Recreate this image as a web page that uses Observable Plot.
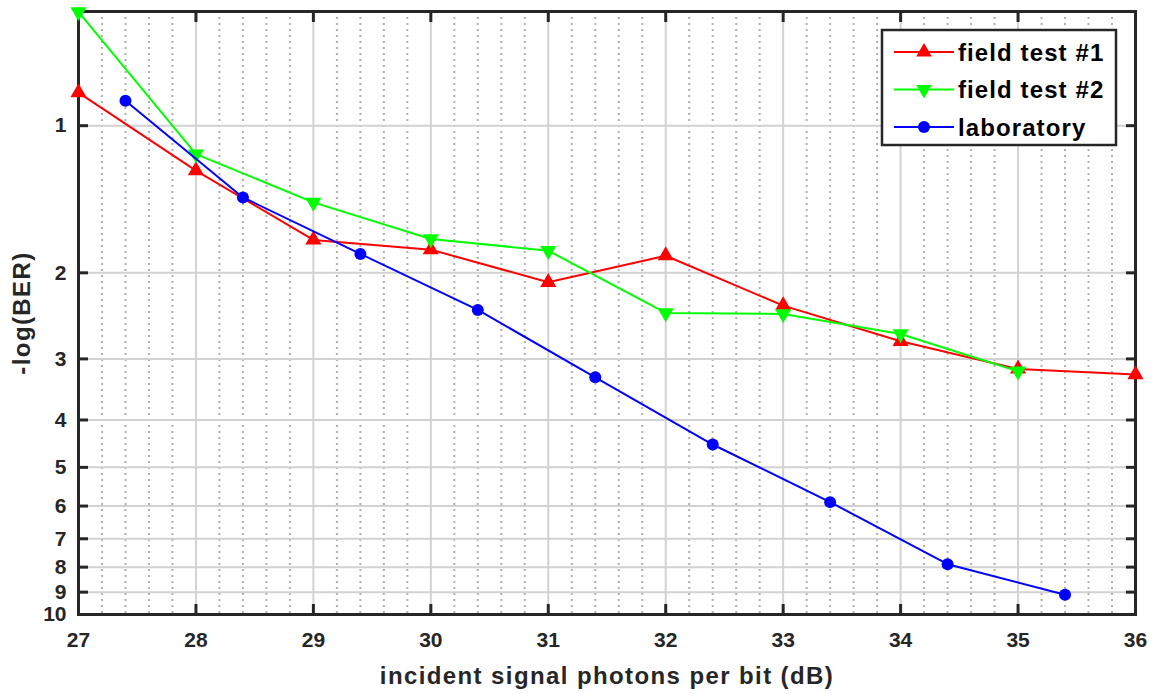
<!DOCTYPE html>
<html>
<head>
<meta charset="utf-8">
<script src="https://cdn.jsdelivr.net/npm/d3@7"></script>
<script src="https://cdn.jsdelivr.net/npm/@observablehq/plot@0.6"></script>
<style>
  html, body { margin: 0; padding: 0; background: #fff; }
  #wrap { position: relative; width: 1157px; height: 694px; }
  #legend { position: absolute; left: 0; top: 0; }
  .axlabel { letter-spacing: 1.4px; }
</style>
</head>
<body>
<div id="wrap"></div>
<script>
// ---- data ----
const seriesNames = ["field test #1", "field test #2", "laboratory"];
const seriesColors = ["#ff0000", "#00ff00", "#0000ff"];
const field1X = [27, 28, 29, 30, 31, 32, 33, 34, 35, 36];
const field1Y = [0.856, 1.236, 1.713, 1.793, 2.091, 1.845, 2.334, 2.761, 3.145, 3.23];
const field2X = [27, 28, 29, 30, 31, 32, 33, 34, 35];
const field2Y = [0.585, 1.143, 1.435, 1.705, 1.802, 2.416, 2.428, 2.667, 3.18];
const labX = [27.4, 28.4, 29.4, 30.4, 31.4, 32.4, 33.4, 34.4, 35.4];
const labY = [0.889, 1.402, 1.830, 2.382, 3.272, 4.49, 5.89, 7.89, 9.11];
const xTicks = [27, 28, 29, 30, 31, 32, 33, 34, 35, 36];
const yTicks = [1, 2, 3, 4, 5, 6, 7, 8, 9, 10];
const xLabel = "incident signal photons per bit (dB)";
const yLabel = "-log(BER)";

const xMinor = d3.range(135, 181).map(i => i / 5).filter(v => !Number.isInteger(v));

const toRows = (xs, ys, name) => xs.map((x, i) => ({x, y: ys[i], name}));
const f1 = toRows(field1X, field1Y, seriesNames[0]);
const f2 = toRows(field2X, field2Y, seriesNames[1]);
const lab = toRows(labX, labY, seriesNames[2]);

const ink = "#262626";
const W = 1157, H = 694;

const chart = Plot.plot({
  width: W,
  height: H,
  marginLeft: 78,
  marginRight: 22,
  marginTop: 11,
  marginBottom: 80,
  style: {fontFamily: "'Liberation Sans', Arial, sans-serif", fontWeight: "bold", fontSize: "21px", color: ink, background: "#fff"},
  x: {domain: [27, 36]},
  y: {type: "log", domain: [0.584, 10], reverse: true},
  marks: [
    Plot.gridX(xMinor, {stroke: "#b0b0b0", strokeOpacity: 1, strokeWidth: 2, strokeDasharray: "2,4"}),
    Plot.gridX(xTicks, {stroke: "#d2d2d2", strokeOpacity: 1, strokeWidth: 2}),
    Plot.gridY(yTicks, {stroke: "#d2d2d2", strokeOpacity: 1, strokeWidth: 2}),
    Plot.axisX(xTicks, {anchor: "bottom", tickSize: -10, tickPadding: 28, strokeWidth: 3, stroke: ink, fill: ink, label: null, tickFormat: d => String(d), fontSize: 21}),
    Plot.axisX(xTicks, {anchor: "top", tickSize: -10, strokeWidth: 3, stroke: ink, label: null, tickFormat: () => ""}),
    Plot.axisY(yTicks, {anchor: "left", tickSize: -10, tickPadding: 22, strokeWidth: 3, stroke: ink, fill: ink, label: null, tickFormat: d => String(d), fontSize: 21}),
    Plot.axisY(yTicks, {anchor: "right", tickSize: -10, strokeWidth: 3, stroke: ink, label: null, tickFormat: () => ""}),
    Plot.frame({stroke: ink, strokeWidth: 3}),
    Plot.text([xLabel], {frameAnchor: "bottom", lineAnchor: "middle", textAnchor: "middle", dy: 62, text: d => d, fill: ink, fontSize: 24, fontWeight: "bold", className: "axlabel"}),
    Plot.text([yLabel], {frameAnchor: "left", lineAnchor: "middle", textAnchor: "middle", dx: -56, rotate: -90, text: d => d, fill: ink, fontSize: 24, fontWeight: "bold", className: "axlabel"}),
    Plot.line(f1, {x: "x", y: "y", stroke: seriesColors[0], strokeWidth: 2}),
    Plot.dot(f1, {x: "x", y: "y", symbol: "triangle", r: 6, fill: seriesColors[0], stroke: "none"}),
    Plot.line(f2, {x: "x", y: "y", stroke: seriesColors[1], strokeWidth: 2}),
    Plot.dot(f2, {x: "x", y: "y", symbol: "triangle", rotate: 180, r: 6, fill: seriesColors[1], stroke: "none"}),
    Plot.line(lab, {x: "x", y: "y", stroke: seriesColors[2], strokeWidth: 2}),
    Plot.dot(lab, {x: "x", y: "y", symbol: "circle", r: 6, fill: seriesColors[2], stroke: "none"})
  ]
});

const wrap = document.getElementById("wrap");
wrap.appendChild(chart);

// ---- legend overlay ----
const symbols = [d3.symbolTriangle, d3.symbolTriangle, d3.symbolCircle];
const rotations = [0, 180, 0];
const sizes = [105, 105, Math.PI * 36];
const leg = d3.select(wrap).append("svg")
  .attr("id", "legend").attr("width", W).attr("height", H)
  .style("font-family", "'Liberation Sans', Arial, sans-serif")
  .style("font-weight", "bold").style("font-size", "24px").style("letter-spacing", "1.1px");
leg.append("rect").attr("x", 882).attr("y", 30).attr("width", 234).attr("height", 115)
  .attr("fill", "#fff").attr("stroke", ink).attr("stroke-width", 2.5);
seriesNames.forEach((name, i) => {
  const cy = 52 + i * 37.5;
  const g = leg.append("g");
  g.append("line").attr("x1", 894).attr("x2", 954).attr("y1", cy).attr("y2", cy)
    .attr("stroke", seriesColors[i]).attr("stroke-width", 2);
  g.append("path").attr("d", d3.symbol(symbols[i], sizes[i])())
    .attr("transform", `translate(924,${cy}) rotate(${rotations[i]})`)
    .attr("fill", seriesColors[i]);
  g.append("text").attr("x", 958).attr("y", cy).attr("dy", "0.36em")
    .attr("fill", "#000").text(name);
});
</script>
</body>
</html>
